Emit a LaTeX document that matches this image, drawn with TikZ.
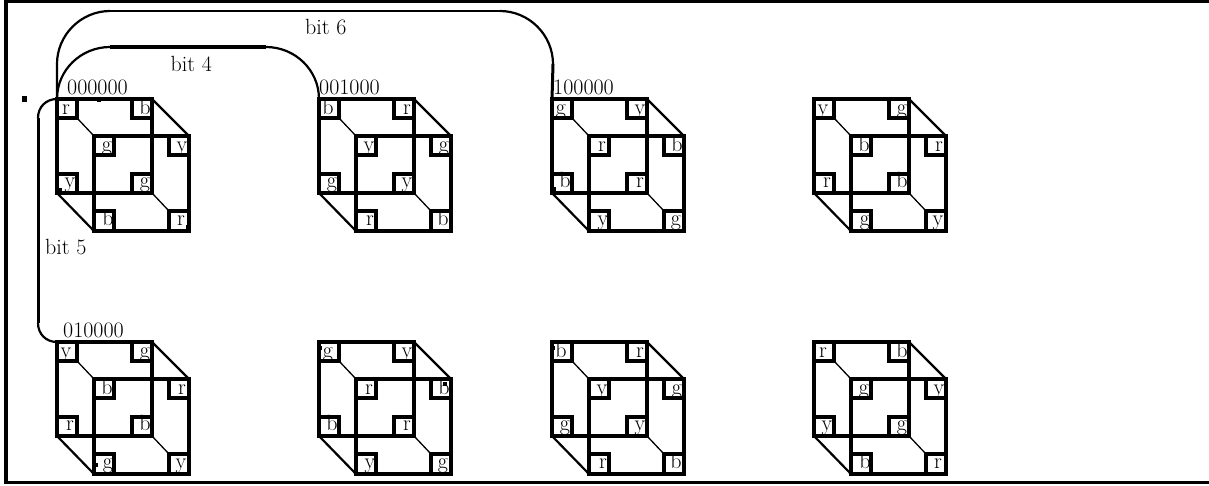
\documentclass[tikz,border=0pt]{standalone}
\tikzset{
  x=1pt,y=-1pt,
  frameline/.style={line width=3.2pt},
  cubeline/.style={line width=3.4pt,line cap=rect},
  boxline/.style={line width=3.2pt},
  diagline/.style={line width=2.2pt},
  thindiag/.style={line width=1.3pt},
  wire/.style={line width=2.2pt},
  thickwire/.style={line width=3.8pt},
  lbl/.style={font=\fontsize{22}{22}\selectfont,inner sep=0pt,anchor=base west},
  clbl/.style={font=\fontsize{22}{22}\selectfont,inner sep=0pt,anchor=base},
  pin/.style={fill=black,inner sep=0pt,minimum size=5.5pt},
  speck/.style={fill=black,inner sep=0pt,minimum size=3.5pt},
}
\newcommand{\hcube}[7]{%
\begin{scope}[shift={(#2,#3)}]
  \coordinate (#1btl) at (0,0);
  \coordinate (#1btr) at (95,0);
  \coordinate (#1bbr) at (95,94);
  \coordinate (#1bbl) at (0,94);
  \coordinate (#1ftl) at (37,37);
  \coordinate (#1ftr) at (132,37);
  \coordinate (#1fbr) at (132,132);
  \coordinate (#1fbl) at (37,132);
  \draw[cubeline] (#1btl) -- (#1btr) -- (#1bbr) -- (#1bbl) -- cycle;
  \draw[cubeline] (#1ftl) -- (#1ftr) -- (#1fbr) -- (#1fbl) -- cycle;
  \draw[thindiag] (20,19) -- (#1ftl);
  \draw[diagline] (#1btr) -- (#1ftr);
  \draw[diagline] (#1bbl) -- (#1fbl);
  \draw[thindiag] (#1bbr) -- (112,112);
  \draw[boxline] (20,0) -- (20,19) -- (0,19);
  \draw[boxline] (75,0) -- (75,19) -- (95,19);
  \draw[boxline] (57,37) -- (57,56) -- (37,56);
  \draw[boxline] (112,37) -- (112,56) -- (132,56);
  \draw[boxline] (0,75) -- (20,75) -- (20,94);
  \draw[boxline] (95,75) -- (75,75) -- (75,94);
  \draw[boxline] (37,112) -- (57,112) -- (57,132);
  \draw[boxline] (132,112) -- (112,112) -- (112,132);
  \node[clbl] (#1la) at (9,15.5) {#4};
  \node[clbl] (#1lb) at (88,15.5) {#5};
  \node[clbl] (#1lc) at (50,52) {#6};
  \node[clbl] (#1ld) at (125,52) {#7};
  \node[clbl] (#1le) at (13,88) {#7};
  \node[clbl] (#1lf) at (88,88) {#6};
  \node[clbl] (#1lg) at (51,126) {#5};
  \node[clbl] (#1lh) at (124,126) {#4};
\end{scope}}
\begin{document}
\begin{tikzpicture}
\useasboundingbox (0,0) rectangle (1209,485);
% frame
\coordinate (fa) at (1209,1);
\coordinate (fb) at (6,1);
\coordinate (fc) at (6,482.5);
\coordinate (fd) at (1209,482.5);
\draw[frameline] (fa) -- (fb) -- (fc) -- (fd);
% cubes
\hcube{A}{57}{99}{r}{b}{g}{y}
\hcube{B}{319}{99}{b}{r}{y}{g}
\hcube{C}{552}{99}{g}{y}{r}{b}
\hcube{D}{814}{99}{y}{g}{b}{r}
\hcube{E}{57}{342}{y}{g}{b}{r}
\hcube{F}{319}{342}{g}{y}{r}{b}
\hcube{G}{552}{342}{b}{r}{y}{g}
\hcube{H}{814}{342}{r}{b}{g}{y}
% wires
\coordinate (s6a) at (57,64);
\coordinate (s6b) at (110,11);
\coordinate (s6c) at (500,11);
\coordinate (s6d) at (553,64);
\coordinate (s4b) at (110,47);
\coordinate (s4c) at (266,47);
\coordinate (s5a) at (38,118);
\coordinate (s5b) at (38,323);
\draw[wire] (Abtl) -- (s6a) .. controls (57,35) and (81,11) .. (s6b);
\draw[wire,line width=2.8pt] (s6b) -- (s6c);
\draw[wire] (s6c) .. controls (529,11) and (553,35) .. (s6d);
\draw[wire,line width=3pt] (s6d) -- (Cbtl);
\draw[wire] (Abtl) .. controls (57,70) and (81,47) .. (s4b);
\draw[thickwire] (s4b) -- (s4c);
\draw[wire] (s4c) .. controls (295,47) and (319,70) .. (Bbtl);
\draw[wire] (Abtl) .. controls (46,99) and (38,107) .. (s5a);
\draw[wire,line width=3pt] (s5a) -- (s5b);
\draw[wire] (s5b) .. controls (38,334) and (46,342) .. (Ebtl);
% labels
\node[lbl] (t6) at (305,34) {bit 6};
\node[lbl] (t4) at (170.5,71) {bit 4};
\node[lbl] (t5) at (45,254) {bit 5};
\node[lbl] (nA) at (67,94.5) {000000};
\node[lbl] (nB) at (319,94.5) {001000};
\node[lbl] (nC) at (553,94.5) {100000};
\node[lbl] (nE) at (63,337.5) {010000};
\node[pin] (dot) at (24.5,99) {};
% specks
\node[speck] (k1) at (99,100.5) {};
\node[speck] (k2) at (60,190) {};
\node[speck] (k3) at (554.5,189) {};
\node[speck] (k4) at (320.5,348) {};
\node[speck] (k5) at (553.5,348) {};
\node[speck] (k6) at (96,465) {};
\node[speck] (k7) at (445,384) {};
\node[speck] (k8) at (188,227) {};
\end{tikzpicture}
\end{document}
